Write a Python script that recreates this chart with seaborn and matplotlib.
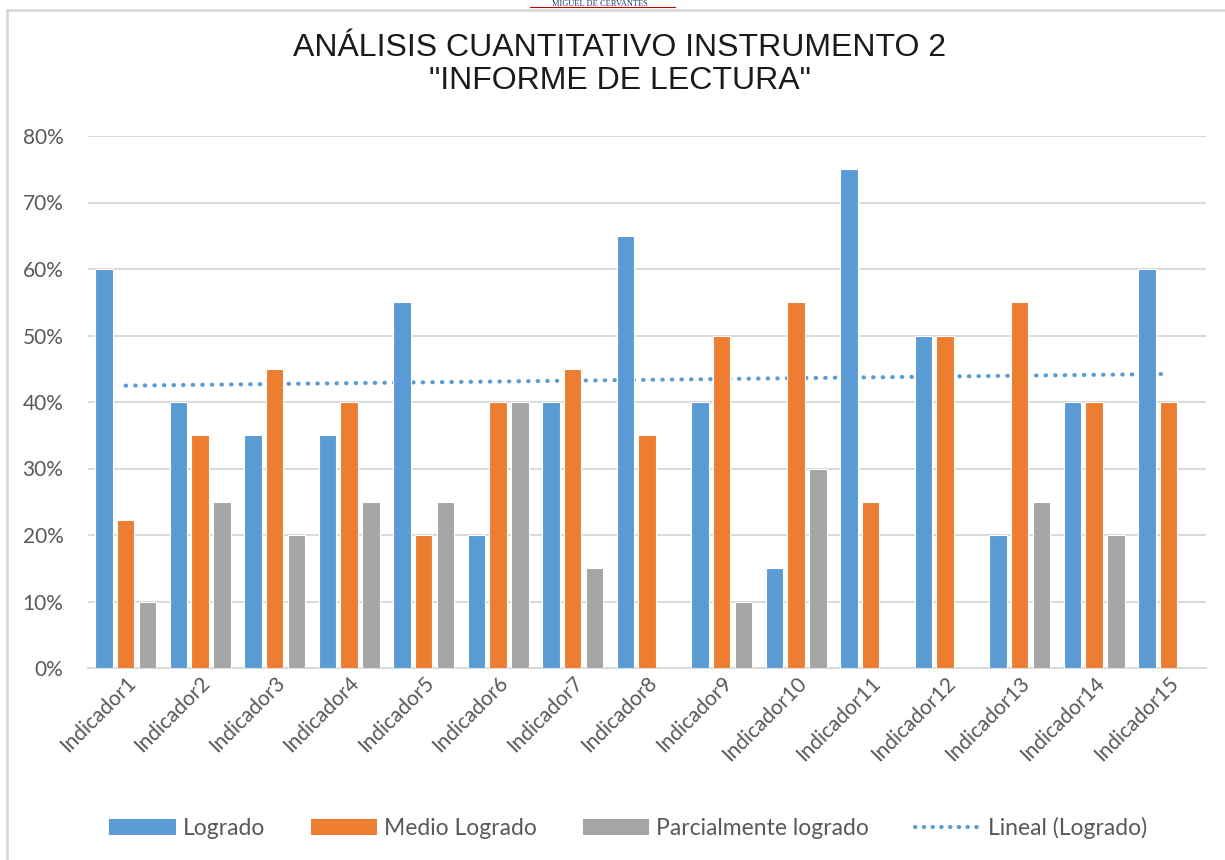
import numpy as np
import pandas as pd
import seaborn as sns
import matplotlib.pyplot as plt
from matplotlib.patches import Patch
from matplotlib.lines import Line2D

# --- data ---
indicadores = [f"Indicador{i}" for i in range(1, 16)]
logrado = [0.60, 0.40, 0.35, 0.35, 0.55, 0.20, 0.40, 0.65, 0.40, 0.15, 0.75, 0.50, 0.20, 0.40, 0.60]
medio_logrado = [0.222, 0.35, 0.45, 0.40, 0.20, 0.40, 0.45, 0.35, 0.50, 0.55, 0.25, 0.50, 0.55, 0.40, 0.40]
parcial = [0.10, 0.25, 0.20, 0.25, 0.25, 0.40, 0.15, 0.0, 0.10, 0.30, 0.0, 0.0, 0.25, 0.20, 0.0]
series = ["Logrado", "Medio Logrado", "Parcialmente logrado"]
colores = ["#5B9BD5", "#ED7D31", "#A5A5A5"]
y_ticks = [0, 0.1, 0.2, 0.3, 0.4, 0.5, 0.6, 0.7, 0.8]

df = pd.DataFrame({
    "indicador": indicadores * 3,
    "serie": [series[0]] * 15 + [series[1]] * 15 + [series[2]] * 15,
    "valor": logrado + medio_logrado + parcial,
})

sns.set_theme(style="white")
plt.rcParams['font.family'] = ['Lato', 'DejaVu Sans']
gris_txt = "#595959"

fig = plt.figure(figsize=(12.25, 8.6), dpi=100)
ax = fig.add_axes([88.4 / 1225, 1 - 668 / 860, (1206 - 88.4) / 1225, (668 - 136) / 860])

sns.barplot(data=df, x="indicador", y="valor", hue="serie", palette=colores,
            saturation=1, width=0.88, gap=0.2, edgecolor="white", linewidth=0.8,
            legend=False, ax=ax, zorder=3)

# linear trend of "Logrado" (as Excel draws it), behind the bars
xs = np.arange(1, 16)
pendiente, corte = np.polyfit(xs, logrado, 1)
ax.plot(xs - 1, pendiente * xs + corte, linestyle=(0, (0.1, 2.2)), dash_capstyle="round",
        color="#5B9BD5", linewidth=3, zorder=2)

ax.set_xlim(-0.5, 14.5)
ax.set_ylim(0, 0.8)
ax.set_yticks(y_ticks)
ax.set_yticklabels([f"{int(round(t * 100))}%" for t in y_ticks])
ax.yaxis.grid(True, color="#D9D9D9", linewidth=1.4, zorder=0)
ax.set_axisbelow(True)
for s in ["top", "right", "left"]:
    ax.spines[s].set_visible(False)
ax.spines["bottom"].set_color("#D9D9D9")
ax.spines["bottom"].set_linewidth(1.4)
ax.tick_params(axis="both", length=0, colors=gris_txt, labelsize=15)
ax.tick_params(axis="y", pad=18)
plt.setp(ax.get_xticklabels(), rotation=45, ha="right", rotation_mode="anchor")
ax.set_xlabel("")
ax.set_ylabel("")

# title
fig.text(0.506, 1 - 48 / 860, "ANÁLISIS CUANTITATIVO INSTRUMENTO 2", ha="center", va="center",
         fontsize=23, family="Liberation Sans", color="#1a1a1a")
fig.text(0.506, 1 - 81 / 860, "\"INFORME DE LECTURA\"", ha="center", va="center",
         fontsize=23, family="Liberation Sans", color="#1a1a1a")

# legend
handles = [Patch(facecolor=c, edgecolor="none") for c in colores]
handles.append(Line2D([0], [0], color="#5B9BD5", linestyle=(0, (0.1, 2.0)), dash_capstyle="round", linewidth=3))
etiquetas = series + ["Lineal (Logrado)"]
fig.legend(handles, etiquetas, loc="center", bbox_to_anchor=(0.513, 1 - 828 / 860), ncol=4,
           frameon=False, fontsize=16.5, handlelength=2.9, handleheight=0.65,
           handletextpad=0.3, columnspacing=2.0, labelcolor=gris_txt)

# page fragments: small header and chart border
fig.text(0.49, 1.0, "MIGUEL DE CERVANTES", ha="center", va="top", fontsize=6,
         family="Liberation Serif", color="#1F3864")
fig.add_artist(Line2D([530 / 1225, 675 / 1225], [1 - 7 / 860] * 2, color="#C00000", linewidth=0.8))
fig.add_artist(Line2D([7 / 1225, 1], [1 - 10 / 860] * 2, color="#D9D9D9", linewidth=2))
fig.add_artist(Line2D([7 / 1225] * 2, [0, 1 - 10 / 860], color="#D9D9D9", linewidth=2))

fig.savefig("out.png", dpi=100, facecolor="white")
